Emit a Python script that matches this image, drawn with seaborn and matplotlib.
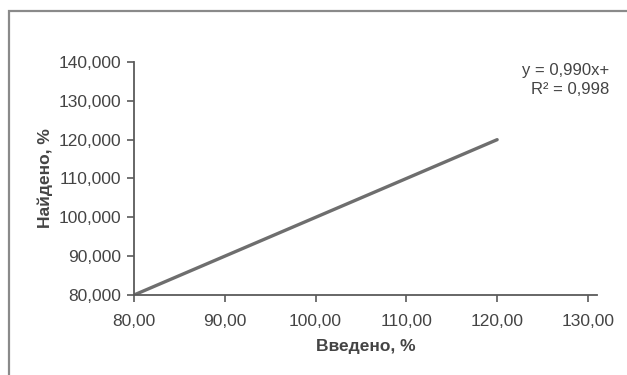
import matplotlib
matplotlib.use("Agg")
import matplotlib.pyplot as plt
import matplotlib.ticker as mticker
from matplotlib.patches import Rectangle
import pandas as pd
import seaborn as sns

# data
vvedeno = [80, 90, 100, 110, 120]
naideno = [80, 90, 100, 110, 120]
x_ticks = [80, 90, 100, 110, 120, 130]
y_ticks = [80, 90, 100, 110, 120, 130, 140]
eq_text = "y = 0,990x+"
r2_text = "R² = 0,998"

df = pd.DataFrame({"x": vvedeno, "y": naideno})

sns.set_theme(style="white")
plt.rcParams["font.family"] = ["Liberation Sans Narrow", "Liberation Sans", "DejaVu Sans"]

txt = "#444444"
axc = "#5a5a5a"

fig = plt.figure(figsize=(6.27, 3.75), dpi=100)
ax = fig.add_axes([134 / 627, 1 - 295 / 375, (597 - 134) / 627, (295 - 62) / 375])

sns.lineplot(data=df, x="x", y="y", ax=ax, color="#6e6e6e", linewidth=2.4)

ax.set_xlim(80, 131)
ax.set_ylim(80, 140)
ax.set_xticks(x_ticks)
ax.set_yticks(y_ticks)
ax.xaxis.set_major_formatter(mticker.FuncFormatter(lambda v, p: f"{v:.2f}".replace(".", ",")))
ax.yaxis.set_major_formatter(mticker.FuncFormatter(lambda v, p: f"{v:.3f}".replace(".", ",")))

for s in ["top", "right"]:
    ax.spines[s].set_visible(False)
for s in ["left", "bottom"]:
    ax.spines[s].set_color(axc)
    ax.spines[s].set_linewidth(1.3)

ax.tick_params(axis="both", direction="out", length=5, width=1.2, color=axc,
               labelsize=12.5, labelcolor=txt, pad=4, bottom=True, left=True)
ax.tick_params(axis="x", pad=9)

ax.set_xlabel("Введено, %", family=["Liberation Sans", "DejaVu Sans"], fontsize=12.5,
              fontweight="bold", color=txt, labelpad=7)
ax.set_ylabel("Найдено, %", family=["Liberation Sans", "DejaVu Sans"], fontsize=12.5,
              fontweight="bold", color=txt, labelpad=4)

fig.text(609 / 627, 1 - 70 / 375, eq_text, ha="right", va="center", fontsize=12, color=txt)
fig.text(609 / 627, 1 - 90 / 375, r2_text, ha="right", va="center", fontsize=12, color=txt)

# outer chart frame (cut off at right and bottom)
fig.patches.append(Rectangle((9 / 627, -0.2), 1.2, 1.2 - 11 / 375, transform=fig.transFigure,
                             fill=False, edgecolor="#8a8a8a", linewidth=1.6))

fig.savefig("out.png", dpi=100)
plt.close(fig)
